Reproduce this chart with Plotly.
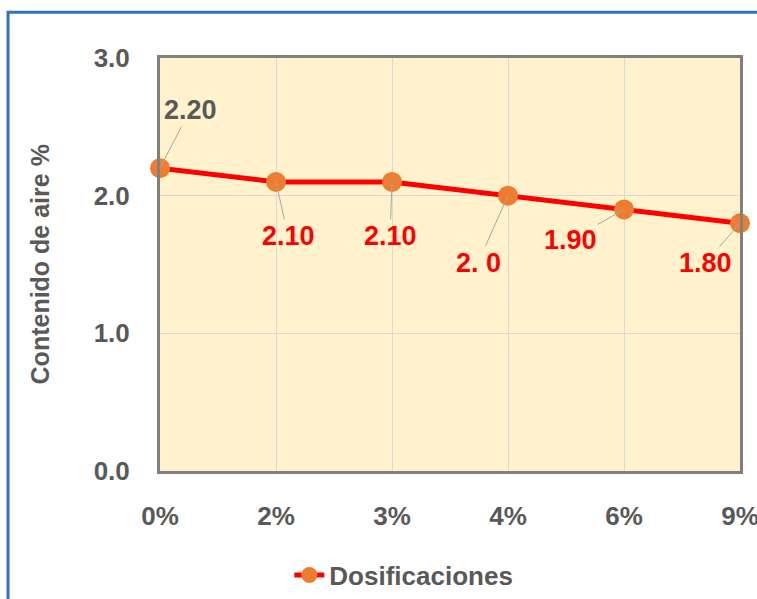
import plotly.graph_objects as go

categories = ["0%", "2%", "3%", "4%", "6%", "9%"]
air_content = [2.20, 2.10, 2.10, 2.00, 1.90, 1.80]
point_labels = ["2.20", "2.10", "2.10", "2. 0", "1.90", "1.80"]
label_colors = ["#595959", "#FF0000", "#FF0000", "#FF0000", "#FF0000", "#FF0000"]
label_dx = [30, 12, -2, -30, -54, -35]
label_dy = [-58, 54, 54, 67, 31, 40]
y_ticks = [0.0, 1.0, 2.0, 3.0]
y_tick_text = ["0.0", "1.0", "2.0", "3.0"]
y_title = "Contenido de aire %"

FONT = "Liberation Sans, Arial, sans-serif"
GRAY = "#595959"

fig = go.Figure()
fig.add_trace(go.Scatter(
    x=categories, y=air_content, mode="lines+markers",
    name="Dosificaciones",
    line=dict(color="#FF0000", width=5),
    marker=dict(color="#ED7D31", size=20),
    cliponaxis=False,
))

for c, v, t, col, dx, dy in zip(categories, air_content, point_labels, label_colors, label_dx, label_dy):
    fig.add_annotation(
        x=c, y=v, text=t, showarrow=True,
        ax=dx, ay=dy, arrowhead=0, arrowwidth=1, arrowcolor="#A6A6A6",
        standoff=0, font=dict(family=FONT, size=27, color=col, weight="bold"),
    )

# y-axis title
fig.add_annotation(xref="paper", yref="paper", x=-0.207, y=0.5, text=y_title,
                   textangle=-90, showarrow=False, xanchor="center", yanchor="middle",
                   font=dict(family=FONT, size=25, color=GRAY, weight="bold"))

fig.add_shape(type="rect", xref="paper", yref="paper",
              x0=-0.262, x1=1.2, y0=-0.4, y1=1.111,
              line=dict(color="#2E75B6", width=3), fillcolor="rgba(0,0,0,0)")

fig.update_layout(
    width=757, height=599,
    margin=dict(l=160, r=17, t=58, b=128, autoexpand=False),
    paper_bgcolor="white", plot_bgcolor="#FFF2CC",
    font=dict(family=FONT, color=GRAY),
    showlegend=True,
    legend=dict(x=0.223, y=-0.252, xanchor="left", yanchor="middle",
                orientation="h", font=dict(family=FONT, size=26, color=GRAY, weight="bold"),
                bgcolor="rgba(0,0,0,0)"),
    xaxis=dict(type="category", range=[0, 5], showgrid=True, gridcolor="#D9D9D9",
               gridwidth=1, showline=True, linecolor="#808080", linewidth=3, mirror=True,
               ticks="", tickfont=dict(family=FONT, size=26, color=GRAY, weight="bold"),
               ticklabelstandoff=20, zeroline=False, automargin=False),
    yaxis=dict(range=[0, 3], tickvals=y_ticks, ticktext=y_tick_text,
               showgrid=True, gridcolor="#D9D9D9", gridwidth=1,
               showline=True, linecolor="#808080", linewidth=3, mirror=True,
               ticks="", tickfont=dict(family=FONT, size=26, color=GRAY, weight="bold"),
               ticklabelstandoff=22, zeroline=False, automargin=False),
)

fig.write_html("out.html")
